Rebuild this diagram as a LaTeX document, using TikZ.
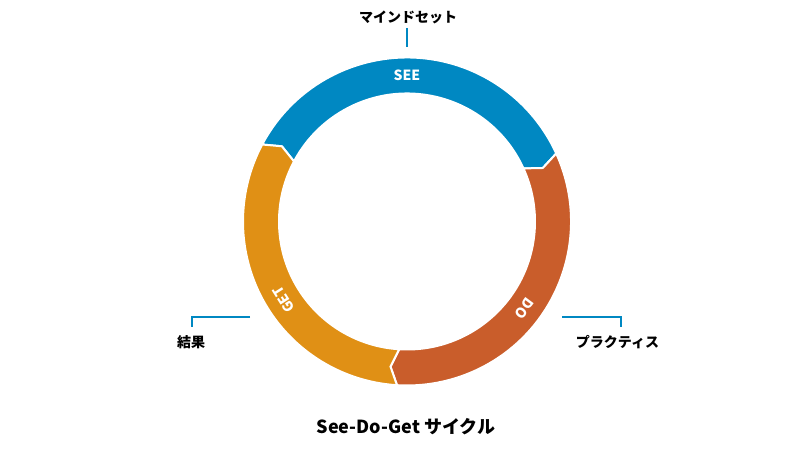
\documentclass[tikz,border=0pt]{standalone}
\usepackage{fontspec}
\newfontfamily\cjk{Noto Sans CJK JP}
\definecolor{seeblue}{RGB}{0,136,194}
\definecolor{dored}{RGB}{201,93,43}
\definecolor{getorange}{RGB}{224,144,21}
\newcommand\Ro{164}
\newcommand\Ri{128}
\newcommand\Rm{146}
\newcommand\Dl{3}
\newcommand\ringseg[3]{%
  \fill[#3, draw=white, line width=2pt, line join=miter]
    (#1:\Ro) arc[start angle=#1, end angle=#2, radius=\Ro]
    -- (#2-\Dl:\Rm) -- (#2:\Ri)
    arc[start angle=#2, end angle=#1, radius=\Ri]
    -- (#1-\Dl:\Rm) -- cycle;}
\begin{document}
\begin{tikzpicture}[x=1pt,y=1pt,
  seglabel/.style={text=white, font=\cjk\bfseries\fontsize{14}{16}\selectfont, inner sep=0pt},
  calloutlabel/.style={text=black, font=\cjk\bfseries\fontsize{14}{16}\selectfont, inner sep=0pt},
  titlelabel/.style={text=black, font=\cjk\bfseries\fontsize{18}{20}\selectfont, inner sep=0pt},
  callout/.style={draw=seeblue, line width=2pt}]
\useasboundingbox (0,0) rectangle (785,450);
\begin{scope}[shift={(407,228.5)}]
  \ringseg{152}{24.5}{seeblue}
  \ringseg{24.5}{-93.5}{dored}
  \ringseg{266.5}{152}{getorange}
  \node[seglabel] (see) at (90:\Rm) {SEE};
  \node[seglabel, rotate=122.4] (get) at (212.4:\Rm) {GET};
  \node[seglabel, rotate=233.4] (do) at (323.4:\Rm) {DO};
\end{scope}
% top callout
\node[calloutlabel] (mind) at (408,433) {マインドセット};
\coordinate (m1) at (407,422);
\coordinate (m2) at (407,403);
\draw[callout] (m1) -- (m2);
% left callout
\node[calloutlabel] (kekka) at (191,108) {結果};
\coordinate (k1) at (250,133);
\coordinate (k2) at (192,133);
\coordinate (k3) at (192,123);
\draw[callout] (k1) -- (k2) -- (k3);
% right callout
\node[calloutlabel] (prac) at (617.5,108) {プラクティス};
\coordinate (p1) at (562,133);
\coordinate (p2) at (621,133);
\coordinate (p3) at (621,123);
\draw[callout] (p1) -- (p2) -- (p3);
% title
\node[titlelabel] (title) at (406,23) {See-Do-Get サイクル};
\end{tikzpicture}
\end{document}
